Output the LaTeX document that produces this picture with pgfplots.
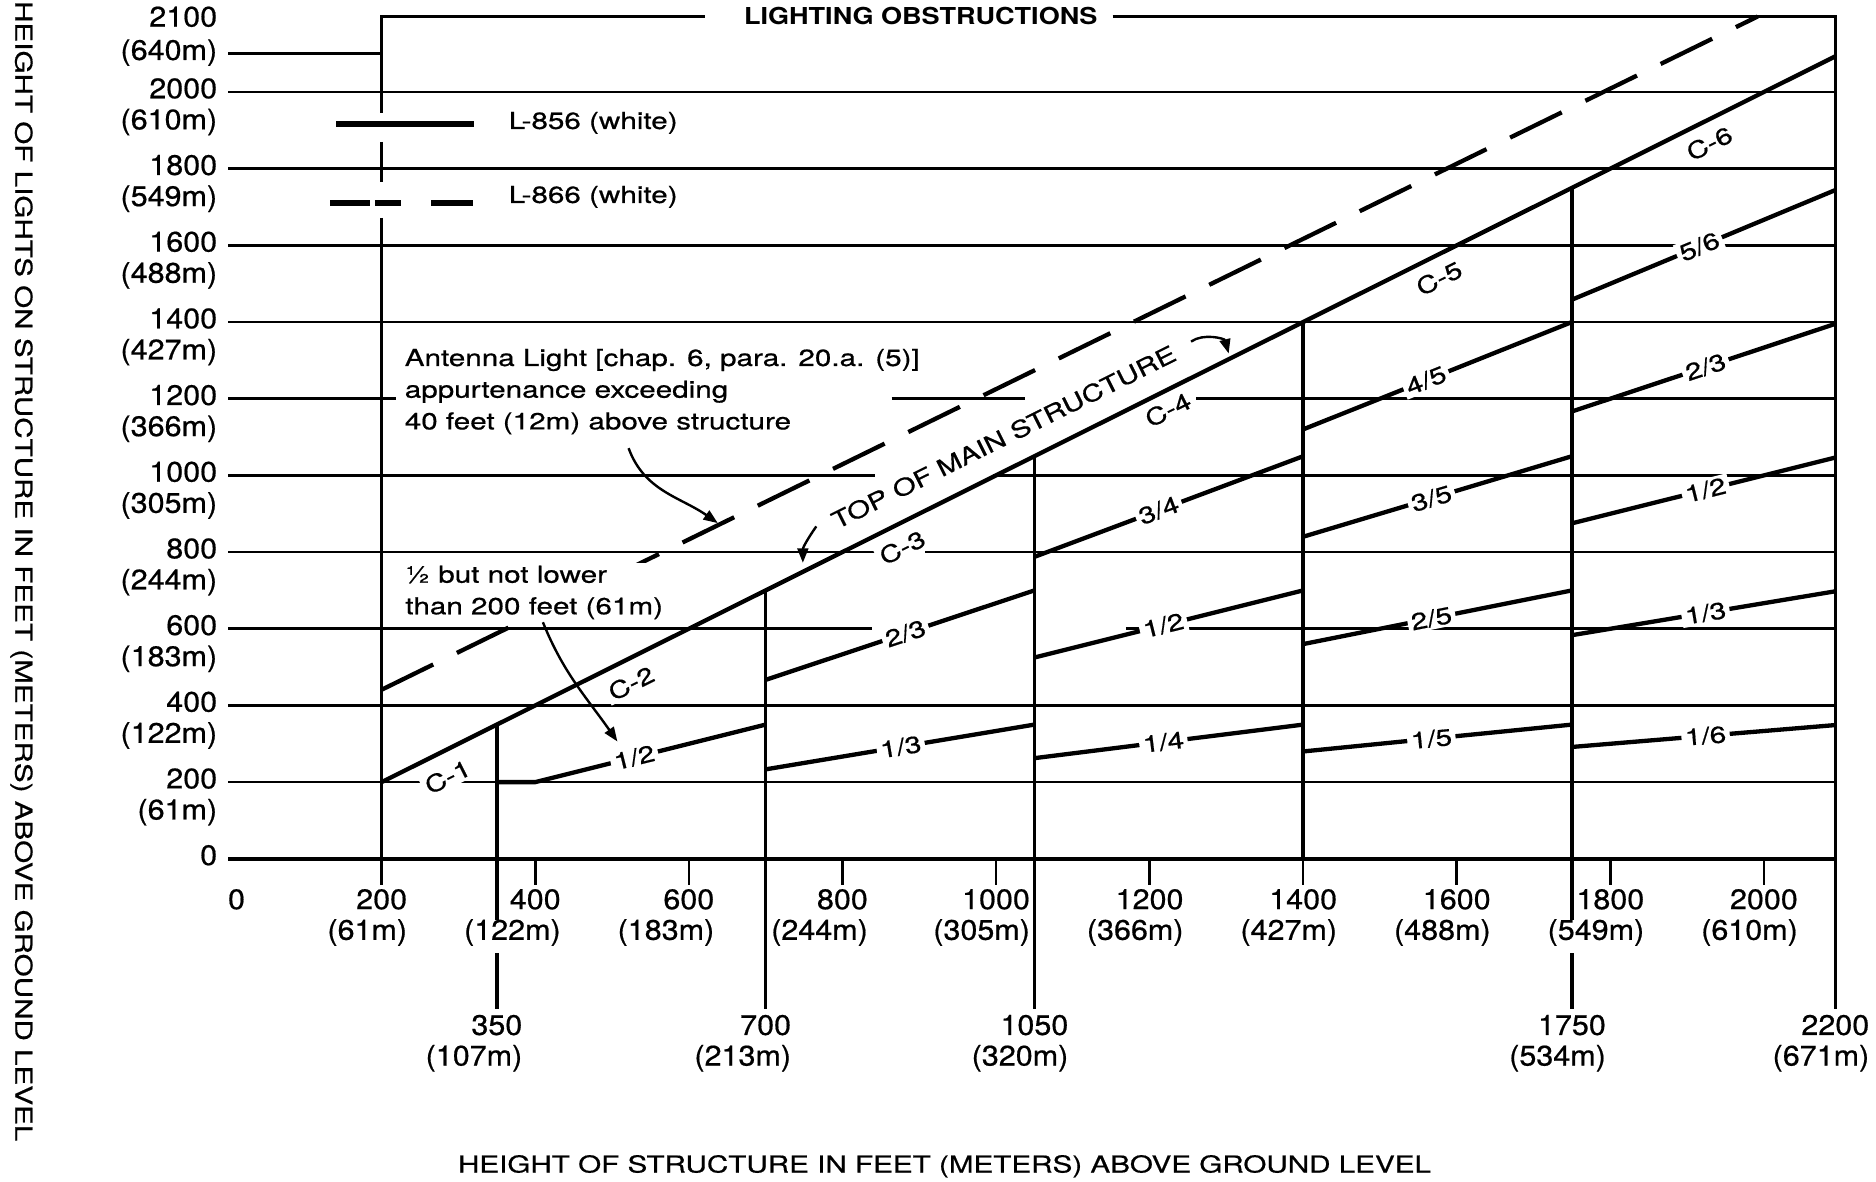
\documentclass[border=0pt]{standalone}
\usepackage{fontspec}
\setmainfont{TeX Gyre Heros}
\newfontfamily\annot[FakeStretch=1.27, FakeBold=0.6]{TeX Gyre Heros}
\newfontfamily\titlef[FakeStretch=1.16]{TeX Gyre Heros Bold}
\newfontfamily\tickf[FakeStretch=1.08, FakeBold=0.6]{TeX Gyre Heros}
\usepackage{pgfplots}
\pgfplotsset{compat=1.18}
\usetikzlibrary{arrows.meta}

\tikzset{
  grd/.style={black, line width=1.1pt},
  vrt/.style={black, line width=1.4pt},
  sl/.style={black, line width=1.8pt},
  ann/.style={font=\annot\fontsize{9.75}{13.2}\selectfont, inner sep=0pt},
  lbl/.style={font=\annot\fontsize{9.75}{11}\selectfont, fill=white, inner xsep=1.5pt, inner ysep=1pt},
  tk/.style={font=\tickf\fontsize{11.8}{13}\selectfont, inner sep=0pt},
  arr/.style={black, line width=1pt, -{Triangle[length=6pt,width=4.5pt]}},
}
% x tick label: feet centred on the tick, metres right-aligned below it
\newcommand\xl[4]{%
  \node[tk, anchor=mid] (a#3) at (axis cs:#1,#2) {#3};
  \node[tk, anchor=mid east, yshift=-12.8pt] at (a#3.mid east) {(#4m)};}
% y tick label: feet on the line, metres below
\newcommand\yl[2]{%
  \node[tk, anchor=mid east] at (axis cs:-13.6,#1) {#1};
  \node[tk, anchor=mid east, yshift=-13pt] at (axis cs:-13.6,#1) {(#2m)};}

\begin{document}
\begin{tikzpicture}
\begin{axis}[
  scale only axis, width=671.65pt, height=352pt,
  xmin=0, xmax=2093, ymin=0, ymax=2197,
  hide axis, clip=false, unbounded coords=jump,
]
% --- horizontal grid (broken where the original leaves gaps)
\addplot[grd] coordinates {
  (0,200)(2093,200) (0,nan)
  (0,400)(2093,400) (0,nan)
  (0,600)(839,600) (0,nan) (1169,600)(2093,600) (0,nan)
  (0,800)(842,800) (0,nan) (908,800)(2093,800) (0,nan)
  (0,1000)(842,1000) (0,nan) (996,1000)(2093,1000) (0,nan)
  (0,1200)(219,1200) (0,nan) (864,1200)(1038,1200) (0,nan) (1261,1200)(2093,1200) (0,nan)
  (0,1400)(2093,1400) (0,nan)
  (0,1600)(2093,1600) (0,nan)
  (0,1800)(2093,1800) (0,nan)
  (0,2000)(2093,2000) (0,nan)
  (0,2100)(200,2100)
};
% --- ticks below the ground line
\addplot[grd] coordinates {
  (200,0)(200,-68) (0,nan) (400,0)(400,-68) (0,nan) (600,0)(600,-68) (0,nan)
  (800,0)(800,-68) (0,nan) (1000,0)(1000,-68) (0,nan) (1200,0)(1200,-68) (0,nan)
  (1400,0)(1400,-68) (0,nan) (1600,0)(1600,-68) (0,nan) (1800,0)(1800,-68) (0,nan)
  (2000,0)(2000,-68)
};
\addplot[black, line width=1.8pt] coordinates {(0,0)(2093,0)};
% --- frame and vertical class limits
\addplot[vrt] coordinates {
  (620.8,2197)(200,2197)(200,1945) (0,nan)
  (200,1870)(200,1766) (0,nan) (200,1672)(200,0) (0,nan)
  (1152,2197)(2093,2197)(2093,-393) (0,nan)
  (350,350)(350,-160) (0,nan) (350,-246)(350,-393) (0,nan)
  (700,700)(700,-393) (0,nan)
  (1050,1050)(1050,-393) (0,nan)
  (1400,1400)(1400,0) (0,nan)
  (1750,1750)(1750,-160) (0,nan) (1750,-246)(1750,-393)
};
% --- antenna light line (L-866)
\addplot[sl, dash pattern=on 24pt off 11pt] coordinates {(200,441)(1992,2197)};
\node[ann, align=left, anchor=north west, fill=white, inner xsep=2pt, inner ysep=1pt]
  at (axis cs:224,772) {½ but not lower\\than 200 feet (61m)};
% --- top of main structure (L-856)
\addplot[sl] coordinates {(200,200)(2093,2093)};
% --- intermediate levels
\addplot[sl] coordinates {(350,200)(400,200)(700,350)};
\addplot[sl] coordinates {(700,466.7)(1050,700) (0,nan) (700,233.3)(1050,350)};
\addplot[sl] coordinates {(1050,787.5)(1400,1050) (0,nan) (1050,525)(1400,700) (0,nan) (1050,262.5)(1400,350)};
\addplot[sl] coordinates {(1400,1120)(1750,1400) (0,nan) (1400,840)(1750,1050) (0,nan)
  (1400,560)(1750,700) (0,nan) (1400,280)(1750,350)};
\addplot[sl] coordinates {(1750,1458.3)(2093,1744.2) (0,nan) (1750,1166.7)(2093,1395.3) (0,nan)
  (1750,875)(2093,1046.5) (0,nan) (1750,583.3)(2093,697.7) (0,nan) (1750,291.7)(2093,348.8)};
% --- legend
\addplot[black, line width=2.6pt] coordinates {(141,1916)(320,1916)};
\addplot[black, line width=2.6pt, dash pattern=on 16.5pt off 2.2pt on 11pt off 12.5pt on 17.5pt off 20pt]
  coordinates {(133,1710)(320,1710)};
\node[ann, anchor=mid west] at (axis cs:365,1920) {L-856 (white)};
\node[ann, anchor=mid west] at (axis cs:365,1727) {L-866 (white)};

% --- labels on the lines
\node[lbl, rotate=26.5] at (axis cs:286,214) {C-1};
\node[lbl, rotate=26.5] at (axis cs:525,458) {C-2};
\node[lbl, rotate=26.5] at (axis cs:878,812) {C-3};
\node[lbl, rotate=26.5] at (axis cs:1224,1171) {C-4};
\node[lbl, rotate=26.5] at (axis cs:1577,1514) {C-5};
\node[lbl, rotate=26.5] at (axis cs:1929,1866) {C-6};
\node[lbl, rotate=26.5] at (axis cs:1010,1100) {TOP OF MAIN STRUCTURE};

\node[lbl, rotate=14.0] at (axis cs:529,264.5) {1/2};
\node[lbl, rotate=18.4] at (axis cs:882,588) {2/3};
\node[lbl, rotate=9.5]  at (axis cs:876,292) {1/3};
\node[lbl, rotate=20.5] at (axis cs:1212,909) {3/4};
\node[lbl, rotate=14.0] at (axis cs:1218,609) {1/2};
\node[lbl, rotate=7.1]  at (axis cs:1218,304.5) {1/4};
\node[lbl, rotate=21.8] at (axis cs:1560,1248) {4/5};
\node[lbl, rotate=16.7] at (axis cs:1567,940) {3/5};
\node[lbl, rotate=11.3] at (axis cs:1567,627) {2/5};
\node[lbl, rotate=5.7]  at (axis cs:1567,313) {1/5};
\node[lbl, rotate=22.6] at (axis cs:1916,1597) {5/6};
\node[lbl, rotate=18.4] at (axis cs:1924,1283) {2/3};
\node[lbl, rotate=14.0] at (axis cs:1924,962) {1/2};
\node[lbl, rotate=9.5]  at (axis cs:1924,641) {1/3};
\node[lbl, rotate=4.8]  at (axis cs:1924,321) {1/6};

% --- texts
\node[inner sep=0pt, font=\titlef\fontsize{9.75}{12}\selectfont] at (axis cs:902,2197) {LIGHTING OBSTRUCTIONS};
\node[ann, align=left, anchor=north west, font=\annot\fontsize{9.75}{13.25}\selectfont]
  at (axis cs:229.5,1331) {Antenna Light [chap. 6, para. 20.a. (5)]\\appurtenance exceeding\\40 feet (12m) above structure};
\node[ann, rotate=-90] at (axis cs:-269,750) {HEIGHT OF LIGHTS ON STRUCTURE IN FEET (METERS) ABOVE GROUND LEVEL};
\node[ann] at (axis cs:933,-802) {HEIGHT OF STRUCTURE IN FEET (METERS) ABOVE GROUND LEVEL};

% --- y tick labels
\node[tk, anchor=mid east] at (axis cs:-13.6,0) {0};
\yl{200}{61} \yl{400}{122} \yl{600}{183} \yl{800}{244} \yl{1000}{305}
\yl{1200}{366} \yl{1400}{427} \yl{1600}{488} \yl{1800}{549} \yl{2000}{610}
\node[tk, anchor=mid east] at (axis cs:-13.6,2187) {2100};
\node[tk, anchor=mid east] at (axis cs:-13.6,2100) {(640m)};

% --- x tick labels
\node[tk, anchor=mid] at (axis cs:11,-115) {0};
\xl{200}{-115}{200}{61} \xl{400}{-115}{400}{122} \xl{600}{-115}{600}{183}
\xl{800}{-115}{800}{244} \xl{1000}{-115}{1000}{305} \xl{1200}{-115}{1200}{366}
\xl{1400}{-115}{1400}{427} \xl{1600}{-115}{1600}{488} \xl{1800}{-115}{1800}{549}
\xl{2000}{-115}{2000}{610}
\xl{350}{-443}{350}{107} \xl{700}{-443}{700}{213} \xl{1050}{-443}{1050}{320}
\xl{1750}{-443}{1750}{534} \xl{2093}{-443}{2200}{671}

% --- pointer arrows
\draw[arr] (axis cs:521.6,1071) to[out=-70,in=145] (axis cs:637.8,875.5);
\draw[arr] (axis cs:410,617) to[out=-68,in=125] (axis cs:507,306);
\draw[arr] (axis cs:766,867) to[out=-125,in=90] (axis cs:748.5,772);
\draw[arr] (axis cs:1254,1349) to[out=35,in=105] (axis cs:1303,1318);

% --- page extent of the reference
\path (axis cs:-297,2240) rectangle (axis cs:2146,-842);
\end{axis}
\end{tikzpicture}
\end{document}
